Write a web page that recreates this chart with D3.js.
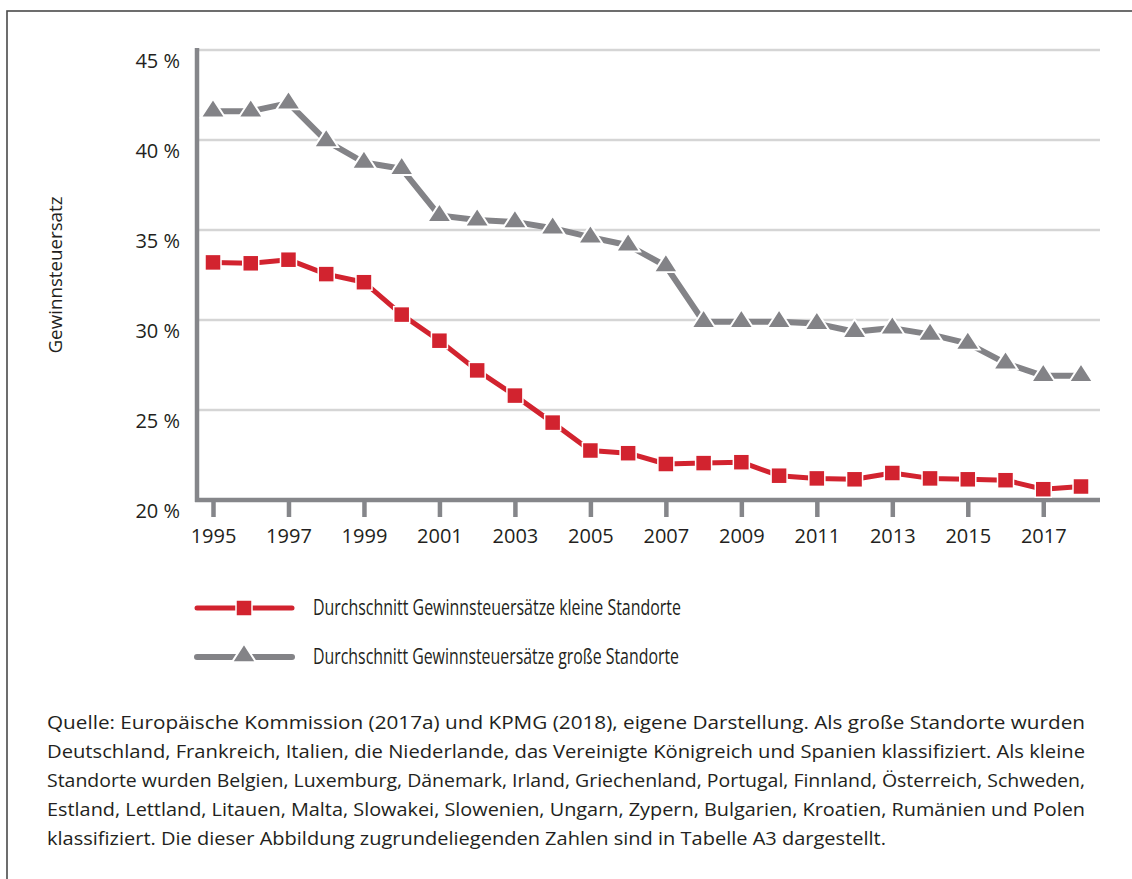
<!DOCTYPE html>
<html>
<head>
<meta charset="utf-8">
<script src="https://cdn.jsdelivr.net/npm/d3@7"></script>
<style>
  html, body { margin: 0; padding: 0; background: #fff; }
  svg { display: block; }
  text { font-family: "Open Sans", "Noto Sans", "DejaVu Sans", sans-serif; fill: #231f20; }
</style>
</head>
<body>
<svg id="chart" width="1132" height="879"></svg>
<script>
// ---- data ----
const years = d3.range(1995, 2019);
const smallSites = [33.2, 33.15, 33.35, 32.55, 32.1, 30.3, 28.85, 27.2, 25.8, 24.3, 22.75, 22.6, 22.0, 22.05, 22.1, 21.35, 21.2, 21.15, 21.5, 21.2, 21.15, 21.1, 20.6, 20.75];
const largeSites = [41.6, 41.6, 42.05, 39.95, 38.75, 38.4, 35.8, 35.55, 35.45, 35.1, 34.6, 34.15, 33.0, 29.9, 29.9, 29.9, 29.8, 29.35, 29.55, 29.2, 28.7, 27.6, 26.9, 26.9];
const yTicks = [20, 25, 30, 35, 40, 45];
const xTicks = [1995, 1997, 1999, 2001, 2003, 2005, 2007, 2009, 2011, 2013, 2015, 2017];
const yAxisTitle = "Gewinnsteuersatz";
const legendLabels = ["Durchschnitt Gewinnsteuersätze kleine Standorte", "Durchschnitt Gewinnsteuersätze große Standorte"];
const noteLines = [
  "Quelle: Europäische Kommission (2017a) und KPMG (2018), eigene Darstellung. Als große Standorte wurden",
  "Deutschland, Frankreich, Italien, die Niederlande, das Vereinigte Königreich und Spanien klassifiziert. Als kleine",
  "Standorte wurden Belgien, Luxemburg, Dänemark, Irland, Griechenland, Portugal, Finnland, Österreich, Schweden,",
  "Estland, Lettland, Litauen, Malta, Slowakei, Slowenien, Ungarn, Zypern, Bulgarien, Kroatien, Rumänien und Polen",
  "klassifiziert. Die dieser Abbildung zugrundeliegenden Zahlen sind in Tabelle A3 dargestellt."
];

// ---- styles ----
const RED = "#d2232f";
const GRAY = "#838387";
const AXIS = "#85868a";
const GRID = "#d5d5d5";

const svg = d3.select("#chart");

// frame
svg.append("rect").attr("x", 7).attr("y", 11).attr("width", 1140).attr("height", 890)
  .attr("fill", "none").attr("stroke", "#4a4a4a").attr("stroke-width", 1.6);

const x = d3.scaleLinear().domain([1995, 2018]).range([213, 1081]);
const y = d3.scaleLinear().domain([20, 45]).range([500, 50]);
const xLeft = 197, xRight = 1100;

// gridlines
svg.append("g").selectAll("line").data(yTicks.filter(d => d > 20)).join("line")
  .attr("x1", xLeft).attr("x2", xRight)
  .attr("y1", d => y(d)).attr("y2", d => y(d))
  .attr("stroke", GRID).attr("stroke-width", 2.5);

// y axis
const yAxis = d3.axisLeft(y).tickValues(yTicks).tickSize(0).tickPadding(17)
  .tickFormat(d => d + " %");
const gy = svg.append("g").attr("transform", `translate(${xLeft},0)`).call(yAxis);
gy.select(".domain").remove();
gy.selectAll("text").attr("font-size", 20).attr("dy", "0.85em").style("fill", "#231f20")
  .attr("font-family", "'Open Sans', sans-serif");
svg.append("line").attr("x1", xLeft).attr("x2", xLeft).attr("y1", 48).attr("y2", 502)
  .attr("stroke", AXIS).attr("stroke-width", 4.5);

// x axis
const xAxis = d3.axisBottom(x).tickValues(xTicks).tickSize(17).tickPadding(12).tickFormat(d3.format("d"));
const gx = svg.append("g").attr("transform", `translate(0,${y(20)})`).call(xAxis);
gx.select(".domain").remove();
gx.selectAll(".tick line").attr("stroke", AXIS).attr("stroke-width", 4.5);
gx.selectAll("text").attr("font-size", 20).style("fill", "#231f20")
  .attr("font-family", "'Open Sans', sans-serif");
svg.append("line").attr("x1", xLeft - 2).attr("x2", xRight).attr("y1", y(20)).attr("y2", y(20))
  .attr("stroke", AXIS).attr("stroke-width", 4.5);

// y axis title
svg.append("text").attr("transform", "translate(62,275) rotate(-90)")
  .attr("text-anchor", "middle").attr("font-size", 19).attr("textLength", 157)
  .attr("lengthAdjust", "spacingAndGlyphs").text(yAxisTitle);

// series
const line = d3.line().x((d, i) => x(years[i])).y(d => y(d));
const triSize = 200;
const triangle = d3.symbol().type(d3.symbolTriangle).size(triSize);

svg.append("path").datum(largeSites).attr("d", line)
  .attr("fill", "none").attr("stroke", GRAY).attr("stroke-width", 6).attr("stroke-linejoin", "round");
svg.append("g").selectAll("path").data(largeSites).join("path")
  .attr("d", triangle)
  .attr("transform", (d, i) => `translate(${x(years[i])},${y(d)}) scale(1.12,1)`)
  .attr("fill", GRAY).attr("stroke", "#fff").attr("stroke-width", 1.8);

svg.append("path").datum(smallSites).attr("d", line)
  .attr("fill", "none").attr("stroke", RED).attr("stroke-width", 5).attr("stroke-linejoin", "round");
const sq = 16;
svg.append("g").selectAll("rect").data(smallSites).join("rect")
  .attr("x", (d, i) => x(years[i]) - sq / 2).attr("y", d => y(d) - sq / 2)
  .attr("width", sq).attr("height", sq)
  .attr("fill", RED).attr("stroke", "#fff").attr("stroke-width", 1.5);

// legend
const legend = svg.append("g");
const legY = [608, 657];
const legCol = [RED, GRAY];
legY.forEach((ly, i) => {
  legend.append("line").attr("x1", 197).attr("x2", 292).attr("y1", ly).attr("y2", ly)
    .attr("stroke", legCol[i]).attr("stroke-width", i === 0 ? 5 : 6).attr("stroke-linecap", "round");
  if (i === 0) {
    legend.append("rect").attr("x", 244 - 8).attr("y", ly - 8).attr("width", 16).attr("height", 16)
      .attr("fill", RED).attr("stroke", "#fff").attr("stroke-width", 1.5);
  } else {
    legend.append("path").attr("d", triangle)
      .attr("transform", `translate(244,${ly - 1}) scale(1.12,1)`)
      .attr("fill", GRAY).attr("stroke", "#fff").attr("stroke-width", 1.8);
  }
  legend.append("text").attr("x", 313).attr("y", ly + 7).attr("font-size", 21)
    .attr("textLength", i === 0 ? 368 : 366).attr("lengthAdjust", "spacingAndGlyphs")
    .text(legendLabels[i]);
});

// footnote
const note = svg.append("g");
noteLines.forEach((t, i) => {
  const tx = note.append("text").attr("x", 47).attr("y", 729 + i * 29).attr("font-size", 19).text(t);
  if (i < 4) {
    tx.attr("textLength", 1038).attr("lengthAdjust", "spacingAndGlyphs");
  } else {
    tx.attr("textLength", 839).attr("lengthAdjust", "spacingAndGlyphs");
  }
});
</script>
</body>
</html>
